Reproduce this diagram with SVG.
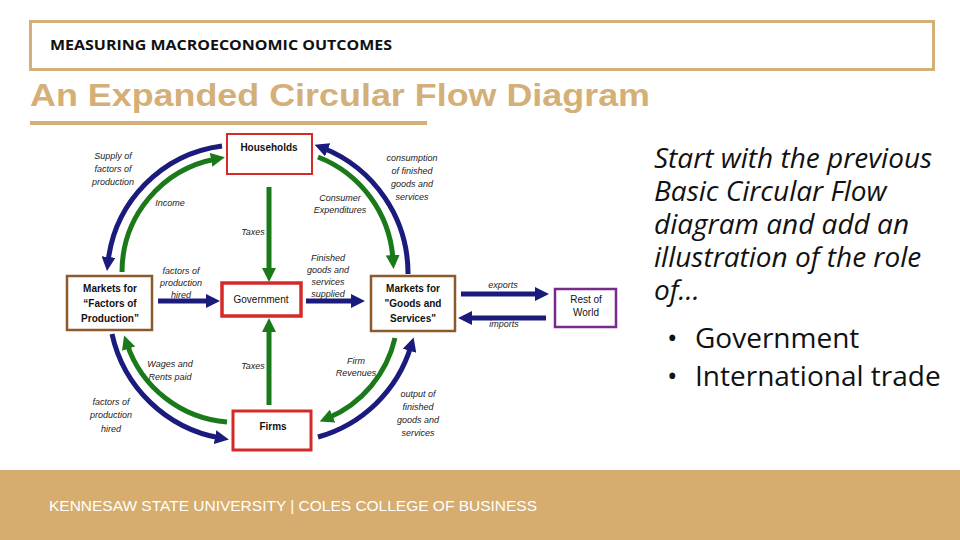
<svg xmlns="http://www.w3.org/2000/svg" width="960" height="540" viewBox="0 0 960 540">
<defs>
<style>
.lbl{font-family:"Liberation Sans",Arial,sans-serif;font-style:italic;font-size:9px;fill:#222;text-anchor:middle}
.nd{font-family:"Liberation Sans",Arial,sans-serif;font-weight:bold;font-size:10px;fill:#111;text-anchor:middle}
.ndn{font-family:"Liberation Sans",Arial,sans-serif;font-size:10px;fill:#111;text-anchor:middle}
.box{fill:#fff}
.blue{fill:none;stroke:#1B1B7E;stroke-width:5}
.green{fill:none;stroke:#1A7A1A;stroke-width:5}
.side{font-family:"Open Sans","DejaVu Sans",sans-serif;font-style:italic;font-size:28px;fill:#111}
.bul{font-family:"Open Sans","DejaVu Sans",sans-serif;font-size:28px;fill:#111}
</style>
<marker id="ab" markerUnits="userSpaceOnUse" markerWidth="14" markerHeight="14" viewBox="0 0 14 14" refX="5" refY="7" orient="auto"><path d="M0,0 L14,7 L0,14 z" fill="#1B1B7E"/></marker>
<marker id="ag" markerUnits="userSpaceOnUse" markerWidth="14" markerHeight="14" viewBox="0 0 14 14" refX="5" refY="7" orient="auto"><path d="M0,0 L14,7 L0,14 z" fill="#1A7A1A"/></marker>
</defs>
<rect width="960" height="540" fill="#fff"/>
<g id="header">
<rect x="30.5" y="21.5" width="903" height="48" fill="none" stroke="#D4AF78" stroke-width="3"/>
<text x="50" y="50" font-family="'Open Sans','Liberation Sans',sans-serif" font-weight="bold" font-size="14" fill="#111" textLength="342" lengthAdjust="spacingAndGlyphs">MEASURING MACROECONOMIC OUTCOMES</text>
<text x="30" y="106" font-family="'Liberation Sans',Arial,sans-serif" font-weight="bold" font-size="32" fill="#D4AF78" textLength="620" lengthAdjust="spacingAndGlyphs">An Expanded Circular Flow Diagram</text>
<rect x="30" y="121" width="397" height="4" fill="#D4AF78"/>
</g>
<g id="connectors">
<path class="blue" d="M222 146 A132 132 0 0 0 108 262" marker-end="url(#ab)"/>
<path class="green" d="M122 272 A115 115 0 0 1 216 159" marker-end="url(#ag)"/>
<path class="blue" d="M408 274 A135 135 0 0 0 323 148" marker-end="url(#ab)"/>
<path class="green" d="M318 157 A118 118 0 0 1 393 260" marker-end="url(#ag)"/>
<path class="green" d="M227 422 A115 115 0 0 1 127 344" marker-end="url(#ag)"/>
<path class="blue" d="M112 334 A135 135 0 0 0 220 438" marker-end="url(#ab)"/>
<path class="green" d="M395 338 A115 115 0 0 1 328 418" marker-end="url(#ag)"/>
<path class="blue" d="M318 437 A135 135 0 0 0 411 346" marker-end="url(#ab)"/>
<path class="green" d="M269 187 L269 273" marker-end="url(#ag)"/>
<path class="green" d="M269 405 L269 327" marker-end="url(#ag)"/>
<path class="blue" d="M158 301 L211 301" marker-end="url(#ab)"/>
<path class="blue" d="M306 301 L356 301" marker-end="url(#ab)"/>
<path class="blue" d="M461 294 L540 294" marker-end="url(#ab)"/>
<path class="blue" d="M546 318 L467 318" marker-end="url(#ab)"/>
</g>
<g id="labels">
<text class="lbl" x="113" y="159">Supply of</text>
<text class="lbl" x="113" y="172">factors of</text>
<text class="lbl" x="113" y="185">production</text>
<text class="lbl" x="170" y="206">Income</text>
<text class="lbl" x="412" y="161">consumption</text>
<text class="lbl" x="412" y="174">of finished</text>
<text class="lbl" x="412" y="187">goods and</text>
<text class="lbl" x="412" y="200">services</text>
<text class="lbl" x="340" y="201">Consumer</text>
<text class="lbl" x="340" y="213">Expenditures</text>
<text class="lbl" x="253" y="235">Taxes</text>
<text class="lbl" x="181" y="274">factors of</text>
<text class="lbl" x="181" y="286">production</text>
<text class="lbl" x="181" y="298">hired</text>
<text class="lbl" x="328" y="261">Finished</text>
<text class="lbl" x="328" y="273">goods and</text>
<text class="lbl" x="328" y="285">services</text>
<text class="lbl" x="328" y="297">supplied</text>
<text class="lbl" x="503" y="288">exports</text>
<text class="lbl" x="504" y="327">imports</text>
<text class="lbl" x="170" y="367">Wages and</text>
<text class="lbl" x="170" y="380">Rents paid</text>
<text class="lbl" x="253" y="369">Taxes</text>
<text class="lbl" x="356" y="364">Firm</text>
<text class="lbl" x="356" y="376">Revenues</text>
<text class="lbl" x="111" y="405">factors of</text>
<text class="lbl" x="111" y="418">production</text>
<text class="lbl" x="111" y="432">hired</text>
<text class="lbl" x="418" y="397">output of</text>
<text class="lbl" x="418" y="410">finished</text>
<text class="lbl" x="418" y="423">goods and</text>
<text class="lbl" x="418" y="436">services</text>
</g>
<g id="households">
<rect class="box" x="227" y="134" width="85" height="40" stroke="#D42A2A" stroke-width="2"/>
<text class="nd" x="269" y="151">Households</text>
</g>
<g id="government">
<rect class="box" x="222" y="283" width="79" height="33" stroke="#D42A2A" stroke-width="3.5"/>
<text class="ndn" x="261" y="303">Government</text>
</g>
<g id="factor-markets">
<rect class="box" x="67" y="276" width="85" height="54" stroke="#8B5A2B" stroke-width="2.5"/>
<text class="nd" x="110" y="292">Markets for</text>
<text class="nd" x="110" y="307">“Factors of</text>
<text class="nd" x="110" y="322">Production”</text>
</g>
<g id="goods-markets">
<rect class="box" x="371" y="276" width="84" height="55" stroke="#8B5A2B" stroke-width="2.5"/>
<text class="nd" x="413" y="292">Markets for</text>
<text class="nd" x="413" y="307">"Goods and</text>
<text class="nd" x="413" y="322">Services"</text>
</g>
<g id="rest-of-world">
<rect class="box" x="555" y="289" width="61" height="38" stroke="#7A2B8A" stroke-width="2.5"/>
<text class="ndn" x="586" y="303">Rest of</text>
<text class="ndn" x="586" y="316">World</text>
</g>
<g id="firms">
<rect class="box" x="233" y="411" width="78" height="39" stroke="#D42A2A" stroke-width="3"/>
<text class="nd" x="273" y="430">Firms</text>
</g>
<g id="side-text">
<text class="side" x="654" y="168">Start with the previous<tspan x="654" dy="33">Basic Circular Flow</tspan><tspan x="654" dy="33">diagram and add an</tspan><tspan x="654" dy="33">illustration of the role</tspan><tspan x="654" dy="33">of…</tspan></text>
<text class="bul" x="667" y="348">•<tspan x="695">Government</tspan><tspan x="667" dy="38">•</tspan><tspan x="695">International trade</tspan></text>
</g>
<g id="footer">
<rect x="0" y="470" width="960" height="70" fill="#D6AD6E"/>
<text x="49" y="511" font-family="'Liberation Sans',Arial,sans-serif" font-size="14" fill="#fff" textLength="488" lengthAdjust="spacingAndGlyphs">KENNESAW STATE UNIVERSITY | COLES COLLEGE OF BUSINESS</text>
</g>
</svg>
